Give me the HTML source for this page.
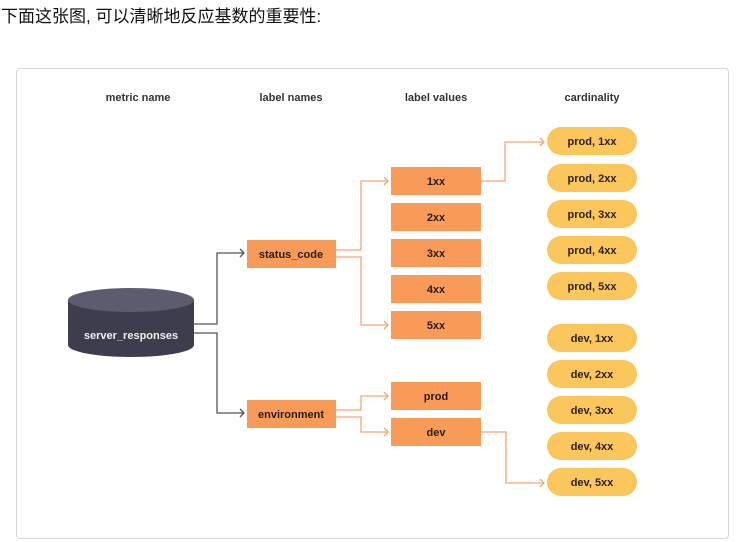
<!DOCTYPE html>
<html><head><meta charset="utf-8"><style>
body{margin:0;width:741px;height:542px;background:#fff;overflow:hidden;font-family:"Liberation Sans","Noto Sans CJK SC",sans-serif;}
.t{position:absolute;left:1px;top:2px;font-size:17px;color:#111;}
.frame{position:absolute;left:16px;top:68px;width:711px;height:469px;border:1px solid #d8d8d8;border-radius:4px;}
</style></head><body>
<div class="t">下面这张图, 可以清晰地反应基数的重要性:</div>
<div class="frame"></div>
<svg width="741" height="542" style="position:absolute;left:0;top:0" font-family="Liberation Sans, sans-serif" font-weight="bold" font-size="11" text-anchor="middle">
<g fill="#333">
<text x="138" y="101">metric name</text>
<text x="291" y="101">label names</text>
<text x="436" y="101">label values</text>
<text x="592" y="101">cardinality</text>
</g>
<path d="M68 300 L68 345 A63 12 0 0 0 194 345 L194 300 Z" fill="#3e3d4e"/>
<ellipse cx="131" cy="300" rx="63" ry="12" fill="#5d5c6e"/>
<text x="131" y="339" fill="#eee" font-size="11">server_responses</text>
<g stroke="#555" fill="none" stroke-width="1.3">
<path d="M194 324 H217 V253 H244"/><path d="M240 249 L244 253 L240 257"/>
<path d="M194 333 H217 V413 H244"/><path d="M240 409 L244 413 L240 417"/>
</g>
<g stroke="#f9a66c" fill="none" stroke-width="1.3">
<path d="M336 250 H361 V181 H388"/><path d="M384 177 L388 181 L384 185"/>
<path d="M336 257 H361 V325 H388"/><path d="M384 321 L388 325 L384 329"/>
<path d="M336 410 H361 V396 H388"/><path d="M384 392 L388 396 L384 400"/>
<path d="M336 417 H361 V432 H388"/><path d="M384 428 L388 432 L384 436"/>
<path d="M481 181 H505 V142 H544"/><path d="M540 138 L544 142 L540 146"/>
<path d="M481 432 H506 V483 H544"/><path d="M540 479 L544 483 L540 487"/>
</g>
<g fill="#f99b58">
<rect x="247" y="240" width="89" height="28"/>
<rect x="247" y="400" width="89" height="28"/>
<rect x="391" y="167" width="90" height="28"/>
<rect x="391" y="203" width="90" height="28"/>
<rect x="391" y="239" width="90" height="28"/>
<rect x="391" y="275" width="90" height="28"/>
<rect x="391" y="311" width="90" height="28"/>
<rect x="391" y="382" width="90" height="28"/>
<rect x="391" y="418" width="90" height="28"/>
</g>
<g fill="#2a1a10">
<text x="291" y="258">status_code</text>
<text x="291" y="418">environment</text>
<text x="436" y="185">1xx</text><text x="436" y="221">2xx</text><text x="436" y="257">3xx</text>
<text x="436" y="293">4xx</text><text x="436" y="329">5xx</text>
<text x="436" y="400">prod</text><text x="436" y="436">dev</text>
</g>
<g fill="#fbc75c">
<rect x="547" y="127" width="90" height="28" rx="14"/>
<rect x="547" y="164" width="90" height="28" rx="14"/>
<rect x="547" y="200" width="90" height="28" rx="14"/>
<rect x="547" y="236" width="90" height="28" rx="14"/>
<rect x="547" y="272" width="90" height="28" rx="14"/>
<rect x="547" y="324" width="90" height="28" rx="14"/>
<rect x="547" y="360" width="90" height="28" rx="14"/>
<rect x="547" y="396" width="90" height="28" rx="14"/>
<rect x="547" y="432" width="90" height="28" rx="14"/>
<rect x="547" y="468" width="90" height="28" rx="14"/>
</g>
<g fill="#2a2010">
<text x="592" y="145">prod, 1xx</text><text x="592" y="182">prod, 2xx</text><text x="592" y="218">prod, 3xx</text>
<text x="592" y="254">prod, 4xx</text><text x="592" y="290">prod, 5xx</text>
<text x="592" y="342">dev, 1xx</text><text x="592" y="378">dev, 2xx</text><text x="592" y="414">dev, 3xx</text>
<text x="592" y="450">dev, 4xx</text><text x="592" y="486">dev, 5xx</text>
</g>
</svg>
</body></html>
